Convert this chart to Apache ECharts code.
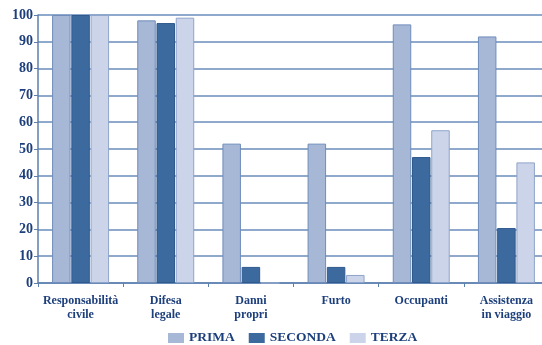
<!DOCTYPE html>
<html>
<head>
<meta charset="utf-8">
<script src="https://cdn.jsdelivr.net/npm/echarts@6/dist/echarts.min.js"></script>
<style>
  html, body { margin: 0; padding: 0; background: #ffffff; overflow: hidden; }
  /* the plot runs a few pixels past the right edge of the page */
  #chart { width: 550px; height: 345px; }
</style>
</head>
<body>
<div id="chart"></div>
<script>
// Coverage categories and the share (%) for each of the three groups
const categories = ['Responsabilità\ncivile', 'Difesa\nlegale', 'Danni\npropri', 'Furto', 'Occupanti', 'Assistenza\nin viaggio'];
const prima   = [100, 98, 52, 52, 96.5, 92];
const seconda = [100, 97, 6, 6, 47, 20.5];
const terza   = [100, 99, 0, 3, 57, 45];
const seriesNames = ['PRIMA', 'SECONDA', 'TERZA'];

const fill   = ['#a7b7d6', '#3c6a9f', '#ccd4e9'];
const stroke = ['#6f8cba', '#2f5a8e', '#8fa4cb'];
const textColor = '#1d3f7c';
const fontFam = '"Liberation Serif", "DejaVu Serif", serif';

const chart = echarts.init(document.getElementById('chart'), null, { renderer: 'canvas' });

function bar(i, data) {
  return {
    name: seriesNames[i],
    type: 'bar',
    data: data,
    barWidth: 18.5,
    barGap: '4%',
    itemStyle: { color: fill[i], borderColor: stroke[i], borderWidth: 1 },
    emphasis: { disabled: true }
  };
}

chart.setOption({
  animation: false,
  backgroundColor: '#ffffff',
  grid: { left: 38, width: 511, top: 15, height: 268, containLabel: false },
  legend: {
    top: 331,
    left: 168,
    padding: 0,
    itemWidth: 16,
    itemHeight: 10,
    itemGap: 14,
    icon: 'rect',
    selectedMode: false,
    itemStyle: { borderWidth: 0 },
    textStyle: { color: textColor, fontFamily: fontFam, fontWeight: 'bold', fontSize: 13.5 },
    data: seriesNames
  },
  xAxis: {
    type: 'category',
    data: categories,
    axisLine: { show: true, lineStyle: { color: '#5d7fae', width: 1.5 } },
    axisTick: { show: true, length: 4, lineStyle: { color: '#5d7fae' } },
    axisLabel: {
      color: textColor, fontFamily: fontFam, fontWeight: 'bold', fontSize: 12,
      lineHeight: 14, margin: 11, interval: 0
    },
    splitLine: { show: false }
  },
  yAxis: {
    type: 'value',
    min: 0, max: 100, interval: 10,
    axisLine: { show: true, lineStyle: { color: '#5d7fae', width: 1.5 } },
    axisTick: { show: true, length: 4, lineStyle: { color: '#5d7fae' } },
    axisLabel: {
      color: textColor, fontFamily: fontFam, fontWeight: 'bold', fontSize: 14, margin: 5
    },
    splitLine: { show: true, lineStyle: { color: '#6a8cbb', width: 1.5 } }
  },
  series: [bar(0, prima), bar(1, seconda), bar(2, terza)]
});
</script>
</body>
</html>
